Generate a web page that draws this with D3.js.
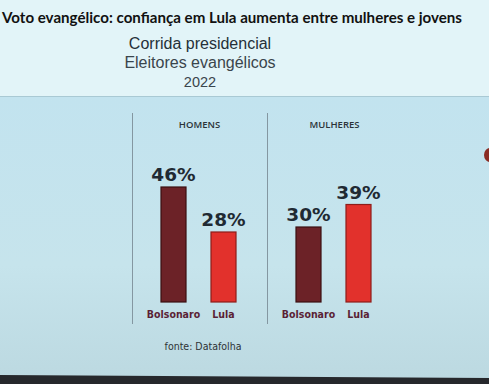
<!DOCTYPE html>
<html>
<head>
<meta charset="utf-8">
<script src="https://cdn.jsdelivr.net/npm/d3@7"></script>
<style>
  html, body { margin: 0; padding: 0; background: #e2f3f7; }
  #chart { width: 489px; height: 384px; }
</style>
</head>
<body>
<div id="chart"></div>
<script>
// dados do gráfico
const groups = ["HOMENS", "MULHERES"];
const candidates = ["Bolsonaro", "Lula"];
const homens = [46, 28];
const mulheres = [30, 39];
const titleLines = ["Corrida presidencial", "Eleitores evangélicos", "2022"];

(function () {
    const width = 489;
    const height = 384;

    const values = { HOMENS: homens, MULHERES: mulheres };
    const colors = { Bolsonaro: "#6c2227", Lula: "#e2312c" };
    const strokes = { Bolsonaro: "#3b0f12", Lula: "#8e1d1a" };

    const svg = d3.select("#chart")
        .append("svg")
        .attr("width", width)
        .attr("height", height)
        .attr("viewBox", `0 0 ${width} ${height}`);

    const defs = svg.append("defs");
    const grad = defs.append("linearGradient")
        .attr("id", "panel")
        .attr("x1", 0).attr("y1", 0).attr("x2", 0).attr("y2", 1);
    grad.append("stop").attr("offset", "0%").attr("stop-color", "#c2e3ef");
    grad.append("stop").attr("offset", "60%").attr("stop-color", "#c6e4ec");
    grad.append("stop").attr("offset", "100%").attr("stop-color", "#bcd9e1");

    // fundo superior
    svg.append("rect")
        .attr("x", 0).attr("y", 0)
        .attr("width", width).attr("height", 96)
        .attr("fill", "#e2f4f8");

    // painel azul
    svg.append("rect")
        .attr("x", 0).attr("y", 96)
        .attr("width", width).attr("height", 282)
        .attr("fill", "url(#panel)");
    svg.append("line")
        .attr("x1", 0).attr("x2", width)
        .attr("y1", 96.5).attr("y2", 96.5)
        .attr("stroke", "#a9c9d4").attr("stroke-width", 1);

    // faixa escura inferior
    svg.append("path")
        .attr("d", `M0,375 L${width},378 L${width},${height} L0,${height} Z`)
        .attr("fill", "#26282c");

    // manchete
    svg.append("text")
        .attr("x", 2).attr("y", 23)
        .attr("textLength", 460)
        .attr("lengthAdjust", "spacingAndGlyphs")
        .attr("font-family", "Lato, 'Open Sans', sans-serif")
        .attr("font-weight", "bold")
        .attr("font-size", 16)
        .attr("fill", "#111")
        .text("Voto evangélico: confiança em Lula aumenta entre mulheres e jovens");

    // título
    const tSizes = [16, 16, 14.5];
    const tY = [49, 67.5, 87];
    svg.append("g").selectAll("text")
        .data(titleLines)
        .enter().append("text")
        .attr("x", 200)
        .attr("y", (_, i) => tY[i])
        .attr("text-anchor", "middle")
        .attr("font-family", "'Liberation Sans', sans-serif")
        .attr("font-size", (_, i) => tSizes[i])
        .attr("fill", (_, i) => i === 0 ? "#253038" : "#3a454c")
        .text(d => d);

    // escalas
    const xGroup = d3.scaleBand()
        .domain(groups)
        .range([132, 402]);

    const xCand = d3.scaleBand()
        .domain(candidates)
        .range([29, 104])
        .paddingInner(0.5);

    const y = d3.scaleLinear()
        .domain([0, 50])
        .range([302, 177]);

    // divisórias
    svg.append("g").selectAll("line")
        .data(groups)
        .enter().append("line")
        .attr("x1", d => xGroup(d) + 0.5)
        .attr("x2", d => xGroup(d) + 0.5)
        .attr("y1", 113).attr("y2", 324)
        .attr("stroke", "#8497a1")
        .attr("stroke-width", 1);

    const g = svg.append("g").selectAll("g")
        .data(groups)
        .enter().append("g")
        .attr("transform", d => `translate(${xGroup(d)},0)`);

    g.append("text")
        .attr("x", xGroup.bandwidth() / 2)
        .attr("y", 128)
        .attr("text-anchor", "middle")
        .attr("font-family", "'Open Sans', 'DejaVu Sans', sans-serif")
        .attr("font-weight", 600)
        .attr("font-size", 9.5)
        .attr("fill", "#2b3338")
        .text(d => d);

    const items = g.selectAll("g.item")
        .data(d => candidates.map((c, i) => ({ cand: c, value: values[d][i] })))
        .enter().append("g")
        .attr("class", "item");

    items.append("rect")
        .attr("x", d => xCand(d.cand))
        .attr("y", d => y(d.value))
        .attr("width", xCand.bandwidth())
        .attr("height", d => y(0) - y(d.value))
        .attr("fill", d => colors[d.cand])
        .attr("stroke", d => strokes[d.cand])
        .attr("stroke-width", 1.2);

    items.append("text")
        .attr("x", d => xCand(d.cand) + xCand.bandwidth() / 2)
        .attr("y", d => y(d.value) - 6)
        .attr("text-anchor", "middle")
        .attr("font-family", "'DejaVu Sans', sans-serif")
        .attr("font-weight", "bold")
        .attr("font-size", 18.5)
        .attr("fill", "#1f2a33")
        .text(d => d.value + "%");

    items.append("text")
        .attr("x", d => xCand(d.cand) + xCand.bandwidth() / 2)
        .attr("y", 318)
        .attr("text-anchor", "middle")
        .attr("font-family", "'DejaVu Sans Condensed', 'DejaVu Sans', sans-serif")
        .attr("font-weight", "bold")
        .attr("font-size", 10.5)
        .attr("fill", "#5a1f35")
        .text(d => d.cand);

    // fonte
    svg.append("text")
        .attr("x", 203).attr("y", 350)
        .attr("text-anchor", "middle")
        .attr("font-family", "'DejaVu Sans Condensed', 'DejaVu Sans', sans-serif")
        .attr("font-size", 10.5)
        .attr("fill", "#2e3336")
        .text("fonte: Datafolha");

    // objeto na borda direita
    svg.append("ellipse")
        .attr("cx", 490).attr("cy", 155)
        .attr("rx", 6).attr("ry", 7)
        .attr("fill", "#8a2c24");
})();
</script>
</body>
</html>
